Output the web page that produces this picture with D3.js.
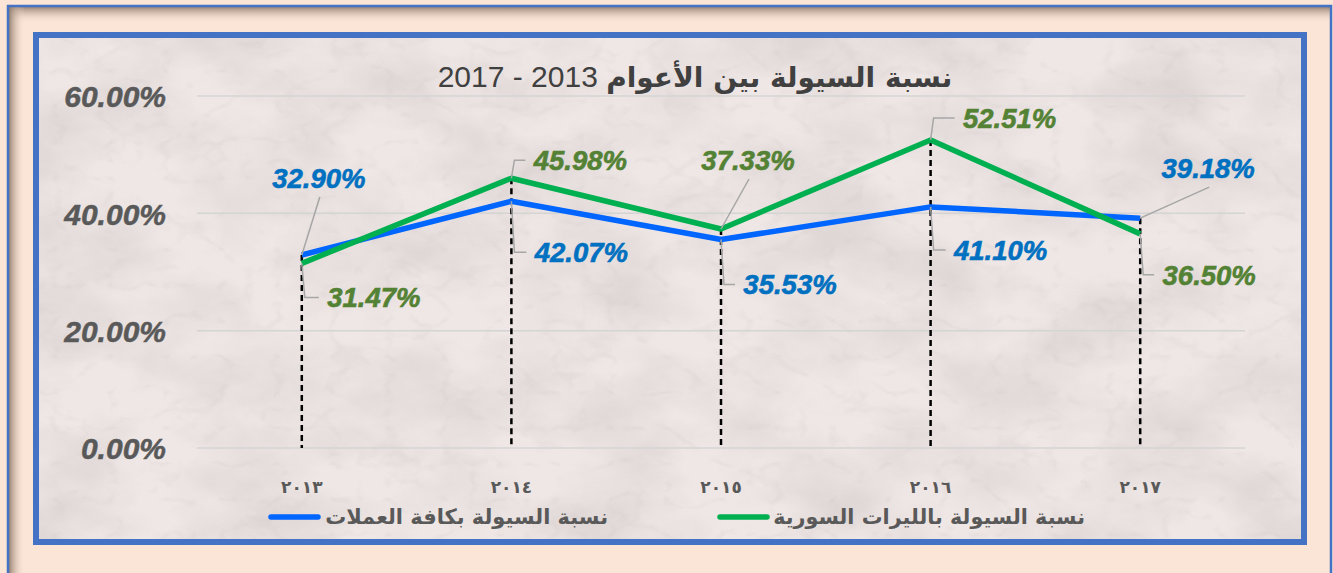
<!DOCTYPE html>
<html><head><meta charset="utf-8">
<script src="https://cdn.jsdelivr.net/npm/d3@7/dist/d3.min.js"></script>
<style>html,body{margin:0;padding:0;background:#fbe5d6;}svg{display:block;}</style>
</head><body>
<svg id="c" width="1333" height="573"></svg>
<script>
const categories = ["٢٠١٣","٢٠١٤","٢٠١٥","٢٠١٦","٢٠١٧"];
const allCurrencies = [32.90, 42.07, 35.53, 41.10, 39.18];
const syrianPounds = [31.47, 45.98, 37.33, 52.51, 36.50];
const yTicks = [0, 20, 40, 60];
const titleArabic = "نسبة السيولة بين الأعوام";
const titleYears = " 2013 - 2017";
const legendNames = ["نسبة السيولة بكافة العملات", "نسبة السيولة بالليرات السورية"];

const svg = d3.select("#c");
const W = 1333, H = 573;
const defs = svg.append("defs");

// outer background and shadows
svg.append("rect").attr("width", W).attr("height", H).attr("fill", "#fbe5d6");
const gT = defs.append("linearGradient").attr("id","gT").attr("x1",0).attr("y1",0).attr("x2",0).attr("y2",1);
gT.append("stop").attr("offset",0).attr("stop-color","#8f7b6c").attr("stop-opacity",0.9);
gT.append("stop").attr("offset",1).attr("stop-color","#fbe5d6").attr("stop-opacity",0);
const gL = defs.append("linearGradient").attr("id","gL").attr("x1",0).attr("y1",0).attr("x2",1).attr("y2",0);
gL.append("stop").attr("offset",0).attr("stop-color","#8f7b6c").attr("stop-opacity",0.9);
gL.append("stop").attr("offset",1).attr("stop-color","#fbe5d6").attr("stop-opacity",0);
svg.append("rect").attr("x",9).attr("y",7).attr("width",1321).attr("height",16).attr("fill","url(#gT)");
svg.append("rect").attr("x",9).attr("y",7).attr("width",16).attr("height",566).attr("fill","url(#gL)");
svg.append("path").attr("d","M8,573 V6 H1331 V573").attr("fill","none").attr("stroke","#4472c4").attr("stroke-width",2.5);

// marble chart area
const f = defs.append("filter").attr("id","marble").attr("x",0).attr("y",0).attr("width","100%").attr("height","100%");
f.append("feTurbulence").attr("type","fractalNoise").attr("baseFrequency","0.009 0.014").attr("numOctaves",5).attr("seed",7);
f.append("feColorMatrix").attr("type","matrix").attr("values",
  "0 0 0 0 0.55  0 0 0 0 0.50  0 0 0 0 0.50  1.2 0 0 0 -0.42");
const f2 = defs.append("filter").attr("id","marble2").attr("x",0).attr("y",0).attr("width","100%").attr("height","100%");
f2.append("feTurbulence").attr("type","turbulence").attr("baseFrequency","0.018 0.028").attr("numOctaves",3).attr("seed",3);
f2.append("feColorMatrix").attr("type","matrix").attr("values",
  "0 0 0 0 0.50  0 0 0 0 0.46  0 0 0 0 0.46  -1.6 0 0 0 0.30");

svg.append("rect").attr("x",36).attr("y",35).attr("width",1268).attr("height",507).attr("fill","#efe7e5");
svg.append("rect").attr("x",36).attr("y",35).attr("width",1268).attr("height",507).attr("filter","url(#marble)").attr("opacity",0.65);
svg.append("rect").attr("x",36).attr("y",35).attr("width",1268).attr("height",507).attr("filter","url(#marble2)").attr("opacity",0.45);
svg.append("rect").attr("x",36).attr("y",35).attr("width",1268).attr("height",507).attr("fill","none").attr("stroke","#4472c4").attr("stroke-width",6);

// scales
const x = d3.scaleBand().domain(categories).range([197, 1245]);
const y = d3.scaleLinear().domain([0, 60]).range([448, 96]);
const cx = d => x(d) + x.bandwidth() / 2;

// gridlines
svg.append("g").selectAll("line").data(yTicks).join("line")
  .attr("x1",197).attr("x2",1245).attr("y1",d=>y(d)).attr("y2",d=>y(d))
  .attr("stroke","#d4d4d4").attr("stroke-width",1.5);

// y axis labels
const yAxis = d3.axisLeft(y).tickValues(yTicks).tickSize(0).tickPadding(0).tickFormat(d => d3.format(".2f")(d) + "%");
const yg = svg.append("g").attr("transform","translate(166,0)").call(yAxis);
yg.select(".domain").remove();
yg.selectAll("text").attr("font-family","'Liberation Sans', Arial, sans-serif").attr("font-weight","bold")
  .attr("font-style","italic").attr("font-size",30).attr("fill","#595959").attr("stroke","#595959").attr("stroke-width",0.5).attr("dy","0.36em");

// x axis labels
const xAxis = d3.axisBottom(x).tickSize(0).tickPadding(0);
const xg = svg.append("g").attr("transform","translate(0,493)").call(xAxis);
xg.select(".domain").remove();
xg.selectAll("text").attr("dy",0).attr("font-family","'DejaVu Sans', sans-serif").attr("font-weight","bold")
  .attr("font-size",17).attr("fill","#595959");

// drop lines
svg.append("g").selectAll("line").data(categories).join("line")
  .attr("x1",d=>cx(d)).attr("x2",d=>cx(d))
  .attr("y1",(d,i)=>y(Math.max(allCurrencies[i], syrianPounds[i])))
  .attr("y2",y(0)).attr("stroke","#000").attr("stroke-width",2.5).attr("stroke-dasharray","6,4");

// lines
const line = d3.line().x((d,i)=>cx(categories[i])).y(d=>y(d));
svg.append("path").datum(allCurrencies).attr("d",line).attr("fill","none").attr("stroke","#0066ff").attr("stroke-width",5.5).attr("stroke-linejoin","round");
svg.append("path").datum(syrianPounds).attr("d",line).attr("fill","none").attr("stroke","#00b050").attr("stroke-width",5.5).attr("stroke-linejoin","round");

// data labels
const blueLab = [{dx:17,dy:-77,t:"diag"},{dx:70,dy:51,t:"elbow"},{dx:69,dy:45,t:"elbow"},{dx:70,dy:43,t:"elbow"},{dx:68,dy:-50,t:"diag"}];
const greenLab = [{dx:72,dy:34,t:"elbow"},{dx:69,dy:-18,t:"elbow"},{dx:27,dy:-69,t:"diag"},{dx:79,dy:-22,t:"elbow"},{dx:69,dy:41,t:"elbow"}];
function labels(vals, offs, color) {
  const g = svg.append("g");
  vals.forEach((v,i) => {
    const px = cx(categories[i]), py = y(v);
    const o = offs[i];
    const lx = px + o.dx, ly = py + o.dy;
    let d;
    if (o.t === "diag") d = `M${px},${py} L${lx+1},${ly+19}`;
    else d = `M${px},${py} L${px+3},${ly} L${lx-55},${ly}`;
    g.append("path").attr("d",d).attr("fill","none").attr("stroke","#a6a6a6").attr("stroke-width",1.5);
    g.append("text").attr("x",lx).attr("y",ly).attr("dy","0.36em").attr("text-anchor","middle")
      .attr("font-family","'Liberation Sans', Arial, sans-serif").attr("font-weight","bold").attr("font-style","italic")
      .attr("font-size",27.5).attr("fill",color).attr("stroke",color).attr("stroke-width",0.6).text(d3.format(".2f")(v) + "%");
  });
}
labels(allCurrencies, blueLab, "#0070c0");
labels(syrianPounds, greenLab, "#548235");

// title
const title = svg.append("text").attr("x",695).attr("y",87).attr("text-anchor","middle").attr("direction","rtl")
  .attr("font-family","'DejaVu Sans', sans-serif").attr("font-size",28).attr("fill","#404040");
title.append("tspan").attr("font-weight","bold").text(titleArabic);
title.append("tspan").attr("font-family","'Liberation Sans', Arial, sans-serif").attr("font-size",30).text(titleYears);

// legend
const legItems = [
  {name: legendNames[0], color:"#0066ff", lx1:268, lx2:321, tx1:325, tx2:608},
  {name: legendNames[1], color:"#00b050", lx1:717, lx2:770, tx1:773, tx2:1085}
];
legItems.forEach(it => {
  svg.append("line").attr("x1",it.lx1+3).attr("x2",it.lx2-3).attr("y1",517).attr("y2",517)
    .attr("stroke",it.color).attr("stroke-width",5.5).attr("stroke-linecap","round");
  const t = svg.append("text").attr("x",it.tx2).attr("y",524).attr("text-anchor","end")
    .attr("font-family","'DejaVu Sans', sans-serif").attr("font-weight","bold").attr("font-size",20)
    .attr("fill","#595959").text(it.name);
  const w = t.node().getComputedTextLength();
  t.attr("font-size", 20 * (it.tx2 - it.tx1) / w);
});
</script>
</body></html>
